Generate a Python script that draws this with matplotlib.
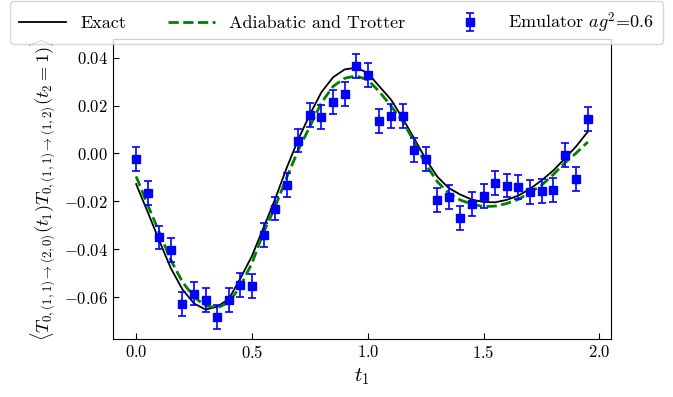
import numpy as np
import matplotlib
matplotlib.use('Agg')
import matplotlib.pyplot as plt

plt.rcParams['font.family'] = 'serif'
plt.rcParams['font.serif'] = ['cmr10']
plt.rcParams['mathtext.fontset'] = 'cm'
plt.rcParams['axes.formatter.use_mathtext'] = True
plt.rcParams['axes.unicode_minus'] = True

# time grid
t = [0.00, 0.05, 0.10, 0.15, 0.20, 0.25, 0.30, 0.35, 0.40, 0.45,
     0.50, 0.55, 0.60, 0.65, 0.70, 0.75, 0.80, 0.85, 0.90, 0.95,
     1.00, 1.05, 1.10, 1.15, 1.20, 1.25, 1.30, 1.35, 1.40, 1.45,
     1.50, 1.55, 1.60, 1.65, 1.70, 1.75, 1.80, 1.85, 1.90, 1.95]

# exact correlator
exact = [-0.0128, -0.0245, -0.0365, -0.0480, -0.0568, -0.0627, -0.0652, -0.0640, -0.0608, -0.0522,
         -0.0428, -0.0310, -0.0190, -0.0060, 0.0059, 0.0163, 0.0256, 0.0318, 0.0351, 0.0358,
         0.0336, 0.0280, 0.0225, 0.0148, 0.0063, -0.0023, -0.0097, -0.0145, -0.0172, -0.0193,
         -0.0203, -0.0204, -0.0194, -0.0176, -0.0148, -0.0113, -0.0072, -0.0022, 0.0030, 0.0091]

# adiabatic + trotter
adiab = [-0.0096, -0.0215, -0.0330, -0.0446, -0.0537, -0.0600, -0.0636, -0.0645, -0.0622, -0.0555,
         -0.0458, -0.0330, -0.0223, -0.0100, 0.0014, 0.0113, 0.0212, 0.0280, 0.0314, 0.0324,
         0.0307, 0.0258, 0.0198, 0.0135, 0.0050, -0.0045, -0.0118, -0.0166, -0.0195, -0.0212,
         -0.0222, -0.0220, -0.0209, -0.0192, -0.0163, -0.0133, -0.0089, -0.0040, 0.0002, 0.0048]

# emulator data
emu = [-0.0024, -0.0166, -0.0351, -0.0402, -0.0627, -0.0585, -0.0614, -0.0682, -0.0613, -0.0549,
       -0.0555, -0.0342, -0.0230, -0.0132, 0.0054, 0.0161, 0.0152, 0.0214, 0.0248, 0.0365,
       0.0329, 0.0135, 0.0155, 0.0155, 0.0014, -0.0022, -0.0194, -0.0183, -0.0268, -0.0211,
       -0.0176, -0.0124, -0.0134, -0.0142, -0.0161, -0.0155, -0.0154, -0.0008, -0.0106, 0.0144]
emu_err = 0.005

fig = plt.figure(figsize=(6.73, 3.97), dpi=100)
ax = fig.add_axes([113/673, 1 - 339/397, (611-113)/673, (339-39)/397])

ax.plot(t, exact, color='black', lw=1.3, label='Exact')
ax.plot(t, adiab, color='green', lw=2, ls='--', label='Adiabatic and Trotter')
ax.errorbar(t, emu, yerr=emu_err, fmt='s', color='blue', ms=6, capsize=3, elinewidth=1.2,
            capthick=1.2, label=r'Emulator $ag^2$=0.6')

ax.set_xlim(-0.1, 2.05)
ax.set_ylim(-0.0775, 0.0478)
ax.set_xticks([0.0, 0.5, 1.0, 1.5, 2.0])
ax.set_yticks([-0.06, -0.04, -0.02, 0.00, 0.02, 0.04])
ax.tick_params(direction='in', labelsize=12, length=4)
ax.set_xlabel(r'$t_1$', fontsize=15)
ax.set_ylabel(r'$\langle T_{0,(1,1)\to(2,0)}(t_1)T_{0,(1,1)\to(1,2)}(t_2=1)\rangle$', fontsize=13.3)

fig.legend(loc='lower center', bbox_to_anchor=(0.5, 1 - 44/397), ncol=3, fontsize=13,
           frameon=True, columnspacing=2.3, handlelength=2.6, borderaxespad=0,
           borderpad=0.5)

fig.savefig('out.png', dpi=100)
